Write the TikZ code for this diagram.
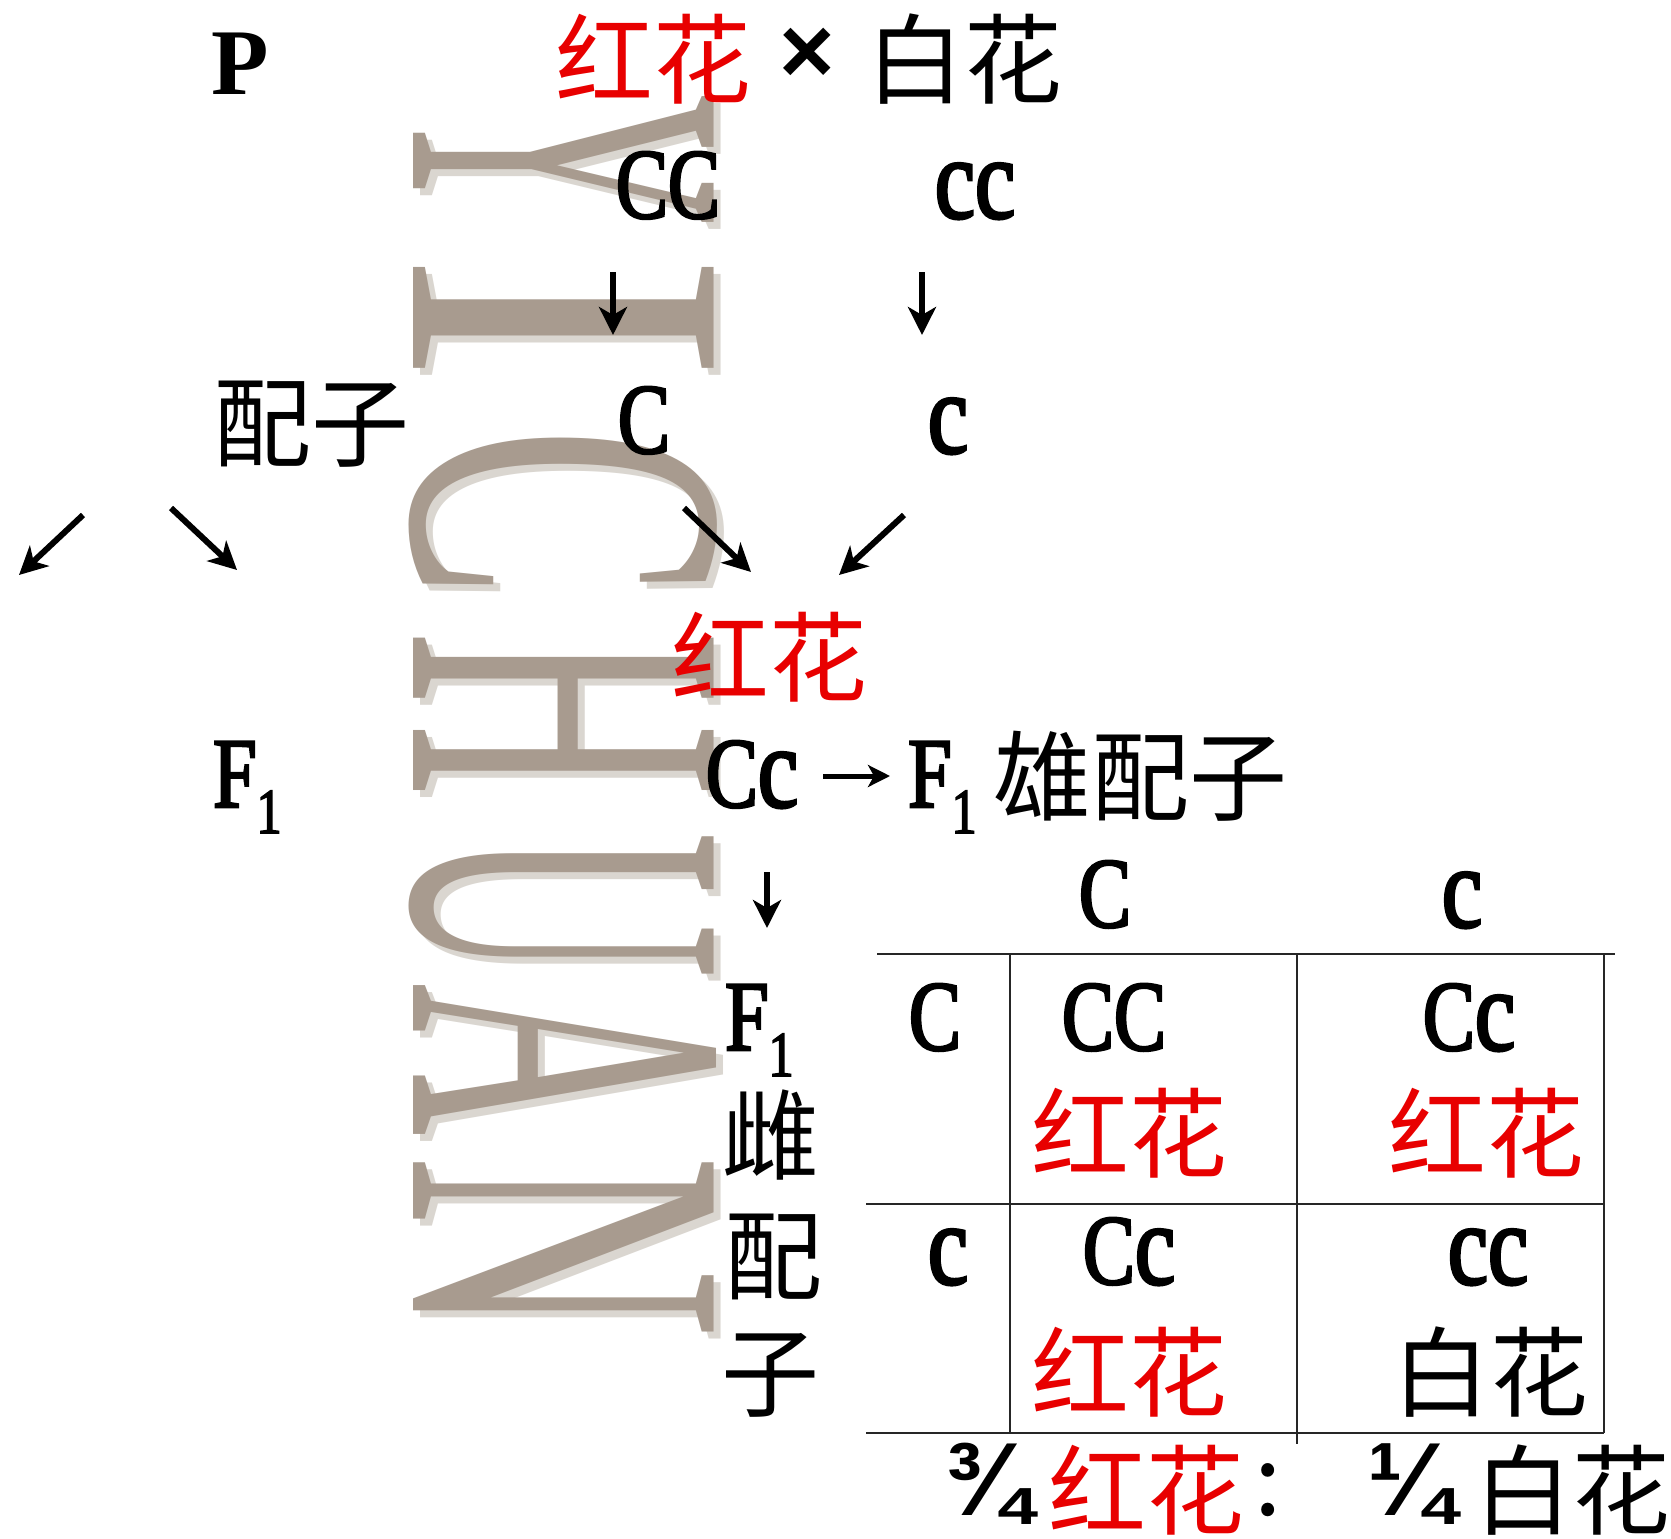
\documentclass[tikz,border=0pt]{standalone}
\usepackage{graphicx}
\usepackage{fontspec}
\setmainfont{Liberation Serif}
\newfontfamily\cjk{Noto Sans CJK SC}
\newfontfamily\cond[FakeStretch=0.78,FakeBold=2.5]{Liberation Serif}
\newfontfamily\sansf{Liberation Sans}
\usetikzlibrary{arrows.meta}
\definecolor{myred}{RGB}{232,0,0}
\definecolor{stone}{RGB}{168,155,143}
\definecolor{stoneshadow}{RGB}{218,214,208}
\newcommand{\lc}[1]{{\fontsize{116}{100}\selectfont #1}}
\newcommand{\wmletter}[4]{%
  \node[wmark, text=stoneshadow] (#4s) at (420,#2+7) {\scalebox{#3}[1]{#1}};
  \node[wmark, text=stone] (#4) at (413,#2) {\scalebox{#3}[1]{#1}};}
\begin{document}
\begin{tikzpicture}[x=1pt,y=-1pt,
  lat/.style={font=\cond\fontsize{100}{100}\selectfont, inner sep=0, anchor=base},
  cj/.style={font=\cjk\fontsize{98}{98}\selectfont, inner sep=0},
  redt/.style={cj, text=myred},
  wmark/.style={rotate=-90, anchor=base, inner sep=0, font=\fontsize{459}{459}\selectfont},
  arr/.style={line width=6pt, -{Stealth[length=28pt,width=28pt,inset=8pt]}},
  gridline/.style={line width=1.5pt, draw=black!85},
]
\useasboundingbox (0,0) rectangle (1671,1539);
\fill[white] (0,0) rectangle (1671,1539);

% watermark, letter by letter
\wmletter{Y}{161}{0.40}{wmY}
\wmletter{I}{318}{0.84}{wmI}
\wmletter{C}{513}{0.56}{wmC}
\wmletter{H}{714}{0.50}{wmH}
\wmletter{U}{905}{0.44}{wmU}
\wmletter{A}{1060}{0.46}{wmA}
\wmletter{N}{1247}{0.55}{wmN}

% top row
\node[font=\bfseries\fontsize{94}{94}\selectfont, inner sep=0, anchor=base] (P) at (240,94) {P};
\node[redt] (red1) at (653,59) {红花};
\node[font=\sansf\bfseries\fontsize{95}{95}\selectfont, inner sep=0] (times) at (807,56) {×};
\node[cj] (white1) at (964,59) {白花};

\node[lat] (CC) at (668,218) {CC};
\node[lat] (cc) at (975,218) {\lc{cc}};

\coordinate (d1s) at (613,272); \coordinate (d1e) at (613,335);
\coordinate (d2s) at (922,272); \coordinate (d2e) at (922,335);
\draw[arr] (d1s) -- (d1e);
\draw[arr] (d2s) -- (d2e);

\node[cj] (gam) at (311,424) {配子};
\node[lat] (gC) at (644,453) {C};
\node[lat] (gc) at (948,453) {\lc{c}};

% diagonal arrows
\coordinate (a1s) at (83,515);  \coordinate (a1e) at (19,575);
\coordinate (a2s) at (171,508); \coordinate (a2e) at (237,570);
\coordinate (a3s) at (684,508); \coordinate (a3e) at (751,572);
\coordinate (a4s) at (904,515); \coordinate (a4e) at (839,575);
\draw[arr] (a1s) -- (a1e);
\draw[arr] (a2s) -- (a2e);
\draw[arr] (a3s) -- (a3e);
\draw[arr] (a4s) -- (a4e);

\node[redt] (red2) at (769,657) {红花};

% F1 row
\node[lat, anchor=base west] (F1a) at (213,807) {F\raisebox{-26pt}{\fontsize{64}{64}\selectfont 1}};
\node[lat] (Cc1) at (752,807) {C\lc{c}};
\coordinate (h1) at (823,776); \coordinate (h2) at (890,776);
\draw[line width=5pt, -{Stealth[length=22pt,width=22pt,inset=6pt]}] (h1) -- (h2);
\node[lat, anchor=base west] (F1b) at (908,807) {F\raisebox{-26pt}{\fontsize{64}{64}\selectfont 1}};
\node[cj] (male) at (1140,776) {雄配子};

\coordinate (d3s) at (767,872); \coordinate (d3e) at (767,928);
\draw[arr] (d3s) -- (d3e);

% table header
\node[lat] (hC) at (1105,927) {C};
\node[lat] (hc) at (1462,927) {\lc{c}};

% grid
\draw[gridline] (877,954) -- (1615,954);
\draw[gridline] (866,1204) -- (1604,1204);
\draw[gridline] (866,1433) -- (1604,1433);
\draw[gridline] (1010,954) -- (1010,1433);
\draw[gridline] (1297,954) -- (1297,1444);
\draw[gridline] (1604,954) -- (1604,1433);

% female gametes label
\node[lat, anchor=base west] (F1c) at (725,1050) {F\raisebox{-26pt}{\fontsize{64}{64}\selectfont 1}};
\node[cj] (fem1) at (770,1135) {雌};
\node[cj] (fem2) at (773,1257) {配};
\node[cj] (fem3) at (770,1375) {子};

% table content
\node[lat] (rC) at (935,1050) {C};
\node[lat] (t11) at (1114,1050) {CC};
\node[lat] (t12) at (1469,1050) {C\lc{c}};
\node[redt] (p11) at (1129,1133) {红花};
\node[redt] (p12) at (1486,1133) {红花};

\node[lat] (rc) at (948,1284) {\lc{c}};
\node[lat] (t21) at (1129,1284) {C\lc{c}};
\node[lat] (t22) at (1488,1284) {\lc{cc}};
\node[redt] (p21) at (1129,1372) {红花};
\node[cj] (p22) at (1490,1372) {白花};

% ratio
\node[font=\sansf\bfseries\fontsize{104}{104}\selectfont, inner sep=0] (r1) at (988,1484) {¾};
\node[redt] (r2) at (1146,1490) {红花};
\node[cj] (r3) at (1268,1490) {:};
\node[font=\sansf\bfseries\fontsize{104}{104}\selectfont, inner sep=0] (r4) at (1411,1484) {¼};
\node[cj] (r5) at (1572,1490) {白花};
\end{tikzpicture}
\end{document}
